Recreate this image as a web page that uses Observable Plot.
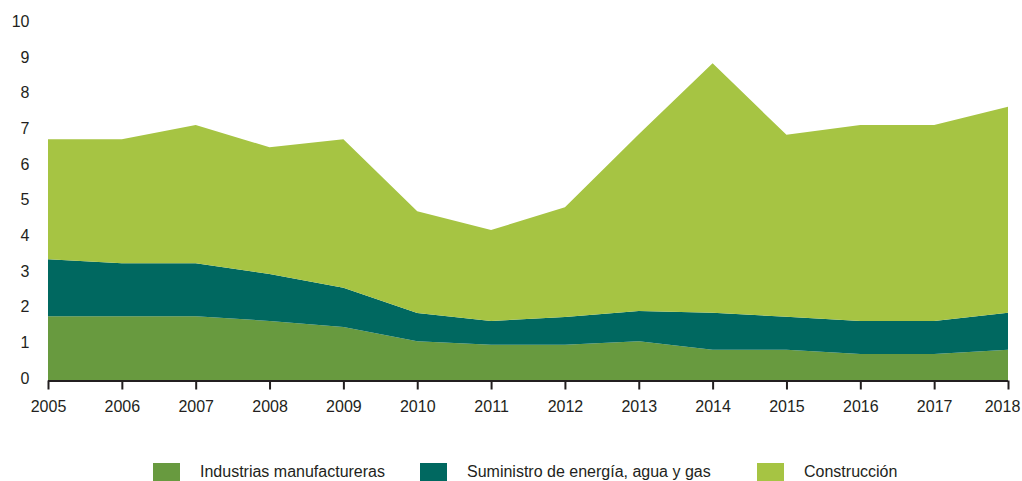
<!DOCTYPE html>
<html>
<head>
<meta charset="utf-8">
<script src="https://cdn.jsdelivr.net/npm/d3@7"></script>
<script src="https://cdn.jsdelivr.net/npm/@observablehq/plot@0.6"></script>
<style>
  html, body { margin: 0; padding: 0; background: #fff; }
  body { width: 1022px; height: 481px; overflow: hidden; font-family: "Liberation Sans", Arial, sans-serif; }
  #legend { position: relative; width: 1022px; height: 61px; }
  .item { position: absolute; top: 43px; display: flex; align-items: center; height: 18px; }
  .sw { width: 27px; height: 18px; margin-right: 20px; }
  .lbl { font-size: 16px; color: #231f20; line-height: 18px; }
</style>
</head>
<body>
<div id="chart"></div>
<div id="legend"></div>
<script>
const years = [2005, 2006, 2007, 2008, 2009, 2010, 2011, 2012, 2013, 2014, 2015, 2016, 2017, 2018];
const seriesNames = ["Industrias manufactureras", "Suministro de energía, agua y gas", "Construcción"];
const seriesColors = ["#689a3f", "#006860", "#a6c443"];
const industrias  = [1.8, 1.8, 1.8, 1.67, 1.5, 1.1, 1.0, 1.0, 1.1, 0.86, 0.86, 0.74, 0.74, 0.86];
const suministro  = [1.6, 1.49, 1.49, 1.32, 1.1, 0.79, 0.67, 0.78, 0.85, 1.04, 0.93, 0.93, 0.93, 1.04];
const construccion = [3.37, 3.48, 3.88, 3.55, 4.17, 2.86, 2.55, 3.08, 4.96, 7.0, 5.1, 5.5, 5.5, 5.78];
const yTicks = [0, 1, 2, 3, 4, 5, 6, 7, 8, 9, 10];

const seriesValues = [industrias, suministro, construccion];
const data = [];
seriesNames.forEach((name, i) => {
  years.forEach((yr, j) => data.push({ year: yr, value: seriesValues[i][j], serie: name }));
});
const lastYear = years[years.length - 1];

const plot = Plot.plot({
  width: 1022,
  height: 420,
  marginLeft: 48,
  marginRight: 14,
  marginTop: 24,
  marginBottom: 39.5,
  style: { fontFamily: "'Liberation Sans', Arial, sans-serif", fontSize: "16px", color: "#231f20", background: "#fff" },
  x: { domain: [years[0], lastYear] },
  y: { domain: [0, 10] },
  color: { domain: seriesNames, range: seriesColors },
  marks: [
    Plot.areaY(data, { x: "year", y: "value", fill: "serie", z: "serie", order: seriesNames }),
    Plot.axisY({ ticks: yTicks, tickSize: 0, tickPadding: 19, dy: -2.5, label: null, fontSize: 16, fill: "#231f20" }),
    Plot.axisX({ ticks: years, tickSize: 9, tickPadding: 11, label: null, fontSize: 16, fill: "#231f20", stroke: "#231f20", strokeWidth: 2, tickFormat: d => d === lastYear ? "" : String(d) }),
    Plot.axisX({ ticks: [lastYear], tickSize: 0, tickPadding: 20, dx: -6, label: null, fontSize: 16, fill: "#231f20", tickFormat: d => String(d) }),
    Plot.ruleY([0], { stroke: "#231f20", strokeWidth: 2.2 })
  ]
});
document.getElementById("chart").appendChild(plot);

const legend = document.getElementById("legend");
const lefts = [153, 420, 757];
seriesNames.forEach((name, i) => {
  const it = document.createElement("div");
  it.className = "item";
  it.style.left = lefts[i] + "px";
  const sw = document.createElement("div");
  sw.className = "sw";
  sw.style.background = seriesColors[i];
  const lb = document.createElement("span");
  lb.className = "lbl";
  lb.textContent = name;
  it.appendChild(sw);
  it.appendChild(lb);
  legend.appendChild(it);
});
</script>
</body>
</html>
